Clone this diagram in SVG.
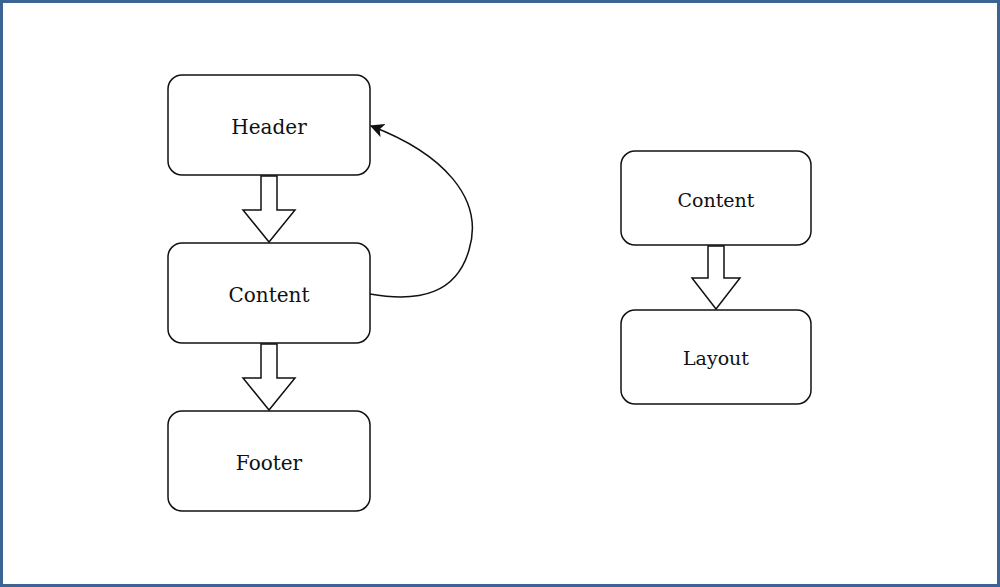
<svg xmlns="http://www.w3.org/2000/svg" width="1000" height="587" viewBox="0 0 1000 587">
<style>
.node rect{fill:#fff;stroke:#111;stroke-width:1.5}
.node text{font-family:"DejaVu Serif",serif;font-size:20px;fill:#111;text-anchor:middle;dominant-baseline:central}
.blk{fill:#fff;stroke:#111;stroke-width:1.5;stroke-linejoin:miter}
.curve{fill:none;stroke:#111;stroke-width:1.5}
</style>
<defs>
<marker id="ah" viewBox="0 0 12 12" refX="11" refY="6" markerWidth="14" markerHeight="14" markerUnits="userSpaceOnUse" orient="auto">
<path d="M0,0 L12,6 L0,12 L3,6 Z" fill="#111"/>
</marker>
</defs>
<rect x="1.5" y="1.5" width="997" height="584" fill="#fff" stroke="#3b6494" stroke-width="3"/>
<g id="connectors">
<path class="blk" d="M261,176 L277,176 L277,210 L295,210 L269,242 L243,210 L261,210 Z"/>
<path class="blk" d="M261,344 L277,344 L277,378 L295,378 L269,410 L243,378 L261,378 Z"/>
<path class="blk" d="M708,246 L724,246 L724,278 L740,278 L716,309 L692,278 L708,278 Z"/>
<path class="curve" d="M370,294 C422,303 457,292 469,250 C485,198 442,153 371,126" marker-end="url(#ah)"/>
</g>
<g id="header" class="node"><rect x="168" y="75" width="202" height="100" rx="14"/><text x="269" y="127">Header</text></g>
<g id="content" class="node"><rect x="168" y="243" width="202" height="100" rx="14"/><text x="269" y="295">Content</text></g>
<g id="footer" class="node"><rect x="168" y="411" width="202" height="100" rx="14"/><text x="269" y="463">Footer</text></g>
<g id="content2" class="node"><rect x="621" y="151" width="190" height="94" rx="14"/><text x="716" y="200" style="font-size:19px">Content</text></g>
<g id="layout" class="node"><rect x="621" y="310" width="190" height="94" rx="14"/><text x="716" y="358" style="font-size:19px">Layout</text></g>
</svg>
